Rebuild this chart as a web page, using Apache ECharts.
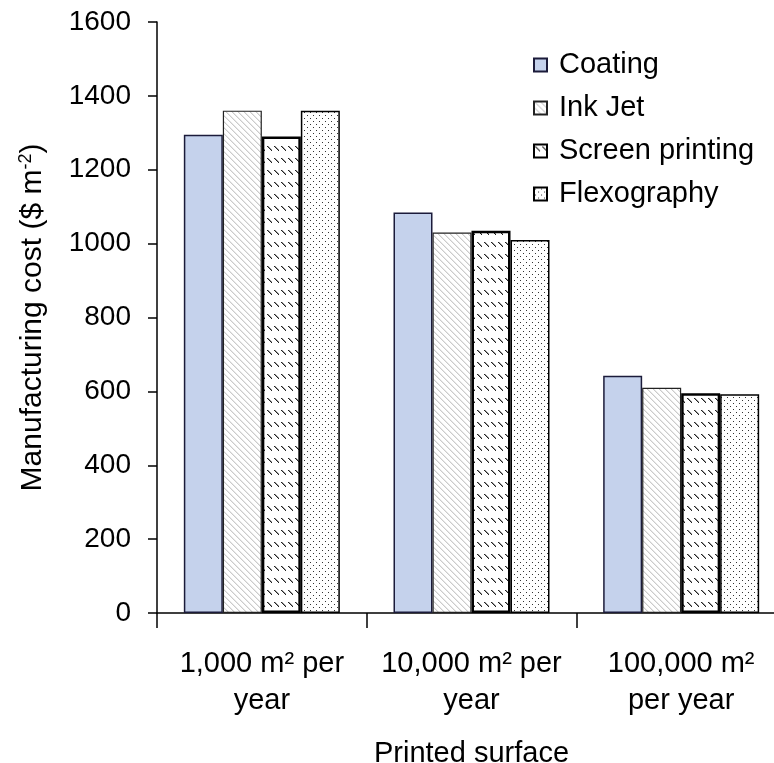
<!DOCTYPE html>
<html>
<head>
<meta charset="utf-8">
<script src="https://cdn.jsdelivr.net/npm/echarts@6/dist/echarts.min.js"></script>
<style>
  html, body { margin: 0; padding: 0; background: #fff; }
  #chart { width: 774px; height: 763px; }
</style>
</head>
<body>
<div id="chart"></div>
<script>
// Manufacturing cost by printed surface and process
const categories = ['1,000 m² per\nyear', '10,000 m² per\nyear', '100,000 m²\nper year'];
const seriesNames = ['Coating', 'Ink Jet', 'Screen printing', 'Flexography'];
const coating = [1295, 1084, 642];
const inkJet = [1360, 1030, 610];
const screenPrinting = [1290, 1035, 595];
const flexography = [1360, 1010, 592];
const yTicks = { min: 0, max: 1600, step: 200 };

const FONT = '"Liberation Sans", Arial, sans-serif';

function makeTile(w, h, draw) {
  const c = document.createElement('canvas');
  c.width = w; c.height = h;
  const ctx = c.getContext('2d');
  ctx.fillStyle = '#ffffff';
  ctx.fillRect(0, 0, w, h);
  draw(ctx);
  return c;
}

// Light grey diagonal hatch
const hatchTile = makeTile(6, 6, ctx => {
  ctx.fillStyle = '#cbcbcb';
  for (let i = 0; i < 6; i++) ctx.fillRect(i, i, 1, 1);
  ctx.fillStyle = '#e8e8e8';
  for (let i = 0; i < 6; i++) ctx.fillRect((i + 1) % 6, i, 1, 1);
});

// Rows of short dotted diagonal dashes
const dashTile = makeTile(7, 12, ctx => {
  ctx.fillStyle = '#222222';
  for (let i = 0; i < 5; i++) ctx.fillRect(1 + i, 2 + i, 1, 1);
  ctx.fillStyle = '#999999';
  for (let i = 0; i < 4; i++) ctx.fillRect(2 + i, 2 + i, 1, 1);
});

// Staggered dot grid
const dotTile = makeTile(6, 6, ctx => {
  ctx.fillStyle = '#333333';
  ctx.fillRect(1, 1, 1, 1);
  ctx.fillRect(4, 4, 1, 1);
});

const styles = [
  { color: '#c5d2ec', borderColor: '#1b1b3a', borderWidth: 1.5 },
  { color: { image: hatchTile, repeat: 'repeat' }, borderColor: '#222', borderWidth: 1.2 },
  { color: { image: dashTile, repeat: 'repeat' }, borderColor: '#000', borderWidth: 2.5 },
  { color: { image: dotTile, repeat: 'repeat' }, borderColor: '#000', borderWidth: 1.5 }
];
const values = [coating, inkJet, screenPrinting, flexography];

const chart = echarts.init(document.getElementById('chart'));
chart.setOption({
  animation: false,
  backgroundColor: '#ffffff',
  textStyle: { fontFamily: FONT },
  grid: { left: 157, right: -12, top: 22, bottom: 150, containLabel: false, outerBoundsMode: 'none' },
  legend: {
    orient: 'vertical',
    left: 528,
    top: 44,
    icon: 'rect',
    itemWidth: 13,
    itemHeight: 13,
    itemGap: 11,
    textStyle: { fontFamily: FONT, fontSize: 29, color: '#000', lineHeight: 32, padding: [0, 0, 0, 7] },
    data: seriesNames
  },
  xAxis: {
    type: 'category',
    data: categories,
    name: 'Printed surface',
    nameLocation: 'middle',
    nameGap: 126,
    nameTextStyle: { fontFamily: FONT, fontSize: 29, color: '#000' },
    axisLine: { lineStyle: { color: '#000', width: 1.5 } },
    axisTick: { show: true, interval: 0, length: 15, lineStyle: { color: '#000', width: 1.5 } },
    axisLabel: { interval: 0, fontFamily: FONT, fontSize: 29, color: '#000', lineHeight: 37, margin: 32 }
  },
  yAxis: {
    type: 'value',
    min: yTicks.min,
    max: yTicks.max,
    interval: yTicks.step,
    name: 'Manufacturing cost ($ m{sup|-2})',
    nameLocation: 'middle',
    nameGap: 108,
    nameTextStyle: {
      fontFamily: FONT, fontSize: 30, color: '#000',
      rich: { sup: { fontFamily: FONT, fontSize: 18, color: '#000', padding: [0, 0, 14, 0] } }
    },
    axisLine: { show: true, lineStyle: { color: '#000', width: 1.5 } },
    axisTick: { show: true, length: 9, lineStyle: { color: '#000', width: 1.5 } },
    splitLine: { show: false },
    axisLabel: { fontFamily: FONT, fontSize: 28, color: '#000', margin: 26, formatter: v => String(v) }
  },
  series: seriesNames.map((name, i) => ({
    name,
    type: 'bar',
    data: values[i],
    barWidth: 39,
    barGap: '0%',
    itemStyle: styles[i]
  }))
});
</script>
</body>
</html>
